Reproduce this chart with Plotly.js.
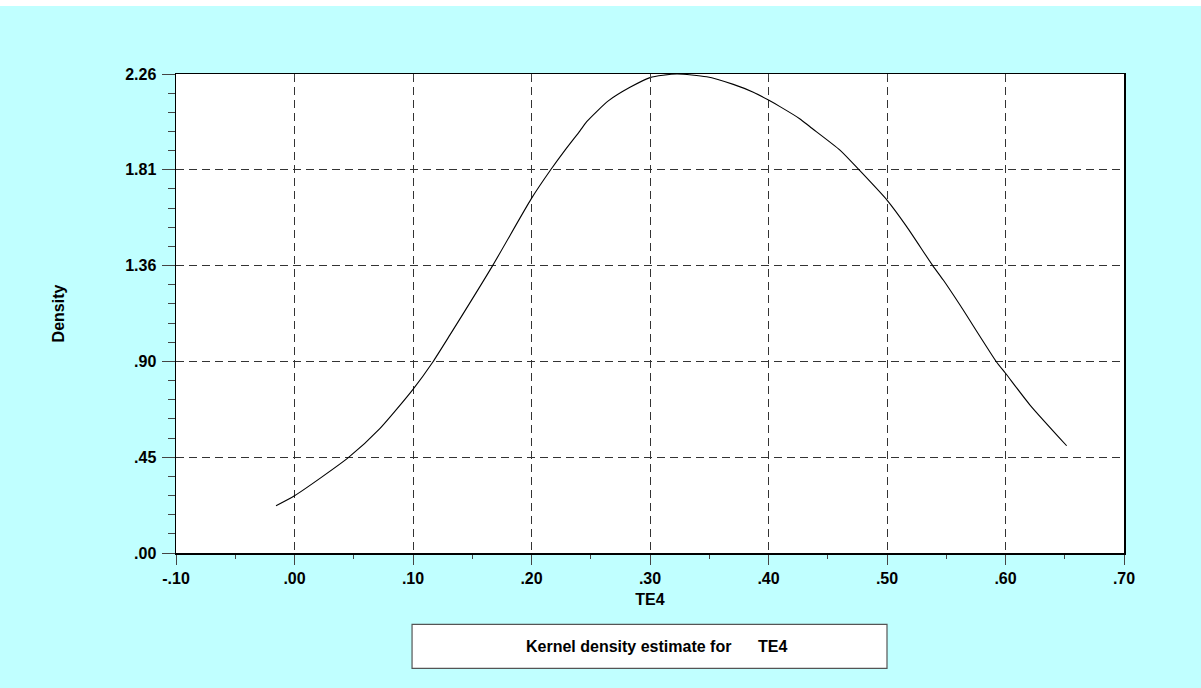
<!DOCTYPE html>
<html>
<head>
<meta charset="utf-8">
<script src="https://cdn.plot.ly/plotly-3.0.1.min.js"></script>
<style>
  html, body { margin: 0; padding: 0; background: #ffffff; }
  #chart { width: 1201px; height: 682px; margin-top: 6px; }
</style>
</head>
<body>
<div id="chart"></div>
<script>
// Kernel density estimate for TE4
const te4 = [-0.0156, 0.000, 0.0454, 0.0722, 0.100, 0.1166, 0.1312, 0.1672, 0.200, 0.2162, 0.2283,
  0.2409, 0.2466, 0.2648, 0.2831, 0.300, 0.3225, 0.3478, 0.3703, 0.3872, 0.400, 0.4097, 0.4266,
  0.435, 0.4603, 0.4764, 0.500, 0.5166, 0.5386, 0.5475, 0.5616, 0.5926, 0.600, 0.6207, 0.6516];
const density = [0.223, 0.270, 0.450, 0.588, 0.772, 0.900, 1.029, 1.356, 1.673, 1.808, 1.901,
  1.992, 2.035, 2.133, 2.197, 2.243, 2.260, 2.247, 2.211, 2.174, 2.137, 2.106, 2.048,
  2.011, 1.901, 1.808, 1.665, 1.540, 1.356, 1.288, 1.170, 0.900, 0.848, 0.698, 0.506];

const xTickVals = [-0.1, 0.0, 0.1, 0.2, 0.3, 0.4, 0.5, 0.6, 0.7];
const xTickText = ['-.10', '.00', '.10', '.20', '.30', '.40', '.50', '.60', '.70'];
const yTickVals = [0, 0.452, 0.904, 1.356, 1.808, 2.26];
const yTickText = ['.00', '.45', '.90', '1.36', '1.81', '2.26'];

const xTitle = 'TE4';
const yTitle = 'Density';
const legendText = 'Kernel density estimate for &nbsp;&nbsp;&nbsp;&nbsp; TE4';

const bold = { family: 'Liberation Sans, Arial, sans-serif', size: 16, color: '#000', weight: 'bold' };
const boldTick = { family: 'Liberation Sans, Arial, sans-serif', size: 16, color: '#000', weight: 'bold' };

const traces = [
  { x: te4, y: density, type: 'scatter', mode: 'lines',
    line: { color: '#000', width: 1.1, shape: 'spline', smoothing: 0.6 }, hoverinfo: 'skip', showlegend: false },
  { x: te4, y: density, xaxis: 'x2', yaxis: 'y', type: 'scatter', mode: 'lines',
    line: { color: 'rgba(0,0,0,0)', width: 0 }, hoverinfo: 'skip', showlegend: false }
];

const layout = {
  width: 1201, height: 682,
  paper_bgcolor: '#C0FFFF',
  plot_bgcolor: '#ffffff',
  margin: { l: 176, r: 77, t: 68, b: 135 },
  font: bold,
  showlegend: false,
  xaxis: {
    range: [-0.1, 0.7], tickmode: 'array', tickvals: xTickVals, ticktext: xTickText,
    ticks: 'outside', ticklen: 10, tickcolor: '#444', tickwidth: 1,
    showline: true, linecolor: '#000', linewidth: 1.5, mirror: true,
    showgrid: true, gridcolor: '#333', gridwidth: 1, griddash: '8px,5px',
    zeroline: false, tickfont: boldTick, ticklabelstandoff: 0,
    minor: { dtick: 0.05, tick0: -0.1, ticks: 'outside', ticklen: 4, tickcolor: '#444', showgrid: false },
    title: { text: xTitle, font: bold, standoff: 8 }
  },
  xaxis2: {
    overlaying: 'x', side: 'top', range: [-0.1, 0.7], tickmode: 'array', tickvals: xTickVals,
    ticks: 'inside', ticklen: 4, tickcolor: '#444', showticklabels: false,
    showline: false, showgrid: false, zeroline: false
  },
  yaxis: {
    range: [0, 2.26], tickmode: 'array', tickvals: yTickVals, ticktext: yTickText,
    ticks: 'outside', ticklen: 13, tickcolor: '#444', tickwidth: 1,
    showline: true, linecolor: '#000', linewidth: 1.5, mirror: true,
    showgrid: true, gridcolor: '#333', gridwidth: 1, griddash: '8px,5px',
    zeroline: false, tickfont: boldTick, ticklabelstandoff: 2,
    minor: { dtick: 0.0904, tick0: 0, ticks: 'outside', ticklen: 7, tickcolor: '#444', showgrid: false },
    title: { text: yTitle, font: bold, standoff: 56 }
  },
  shapes: [
    { type: 'rect', xref: 'paper', yref: 'paper', x0: 0.249, x1: 0.750, y0: -0.2407, y1: -0.1489,
      fillcolor: '#ffffff', line: { color: '#555', width: 1.2 }, layer: 'above' }
  ],
  annotations: [
    { xref: 'paper', yref: 'paper', x: 0.507, y: -0.1948, text: legendText, showarrow: false,
      xanchor: 'center', yanchor: 'middle', font: bold }
  ]
};

Plotly.newPlot('chart', traces, layout, { displayModeBar: false, staticPlot: true });
</script>
</body>
</html>
